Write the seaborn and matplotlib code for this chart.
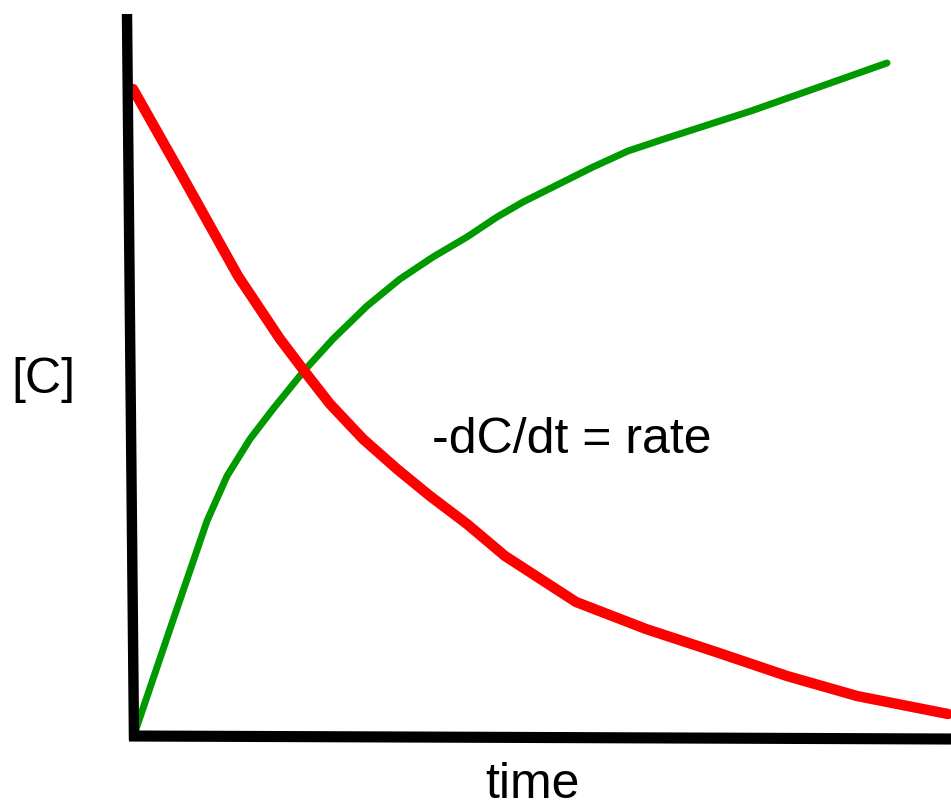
import matplotlib
matplotlib.use("Agg")
import matplotlib.pyplot as plt
import seaborn as sns
import pandas as pd

# Data (time, concentration) in arbitrary units
red_t = [0, 52, 105, 147, 172, 197, 230, 264, 297, 334, 372, 443, 513, 583, 654, 724, 815]
red_c = [647, 555, 460, 397, 364, 332, 297, 267, 240, 212, 180, 134, 107, 84, 60, 40, 22]
green_t = [2, 37, 74, 94, 117, 140, 170, 200, 234, 267, 300, 334, 364, 390, 460, 495, 531, 618, 689, 754]
green_c = [4, 107, 215, 260, 297, 327, 364, 397, 430, 457, 479, 499, 519, 534, 569, 585, 597, 625, 650, 673]

# axis lines (slightly tilted, as drawn)
yaxis_t = [-6, 1]
yaxis_c = [722, -4]
xaxis_t = [-4, 818]
xaxis_c = [0, -3]

sns.set_theme(style="white")
plt.rcParams['font.family'] = ['Liberation Sans', 'DejaVu Sans']

fig = plt.figure(figsize=(9.51, 8.12), dpi=100)
ax = fig.add_axes([133/951, 75/812, 1, 737/812])
ax.set_xlim(0, 951)
ax.set_ylim(0, 737)

red = pd.DataFrame({"t": red_t, "c": red_c})
green = pd.DataFrame({"t": green_t, "c": green_c})
sns.lineplot(data=green, x="t", y="c", ax=ax, color="#009900", linewidth=5.0, sort=False)
sns.lineplot(data=red, x="t", y="c", ax=ax, color="#ff0000", linewidth=7.5, sort=False)
for line in ax.get_lines():
    line.set_solid_joinstyle("round")
ax.plot(yaxis_t, yaxis_c, color="black", linewidth=7.5, solid_capstyle="butt", clip_on=False)
ax.plot(xaxis_t, xaxis_c, color="black", linewidth=8.0, solid_capstyle="butt", clip_on=False)

for s in ax.spines.values():
    s.set_visible(False)
ax.set_xticks([]); ax.set_yticks([])
ax.set_xlabel(""); ax.set_ylabel("")
ax.patch.set_alpha(0)

fig.text(43/951, 1-380/812, "[C]", fontsize=36, color="black", ha="center", va="center")
fig.text(572/951, 1-440/812, "-dC/dt = rate", fontsize=36, color="black", ha="center", va="center")
fig.text(532/951, 1-785/812, "time", fontsize=36, color="black", ha="center", va="center")

fig.savefig("out.png", dpi=100)
